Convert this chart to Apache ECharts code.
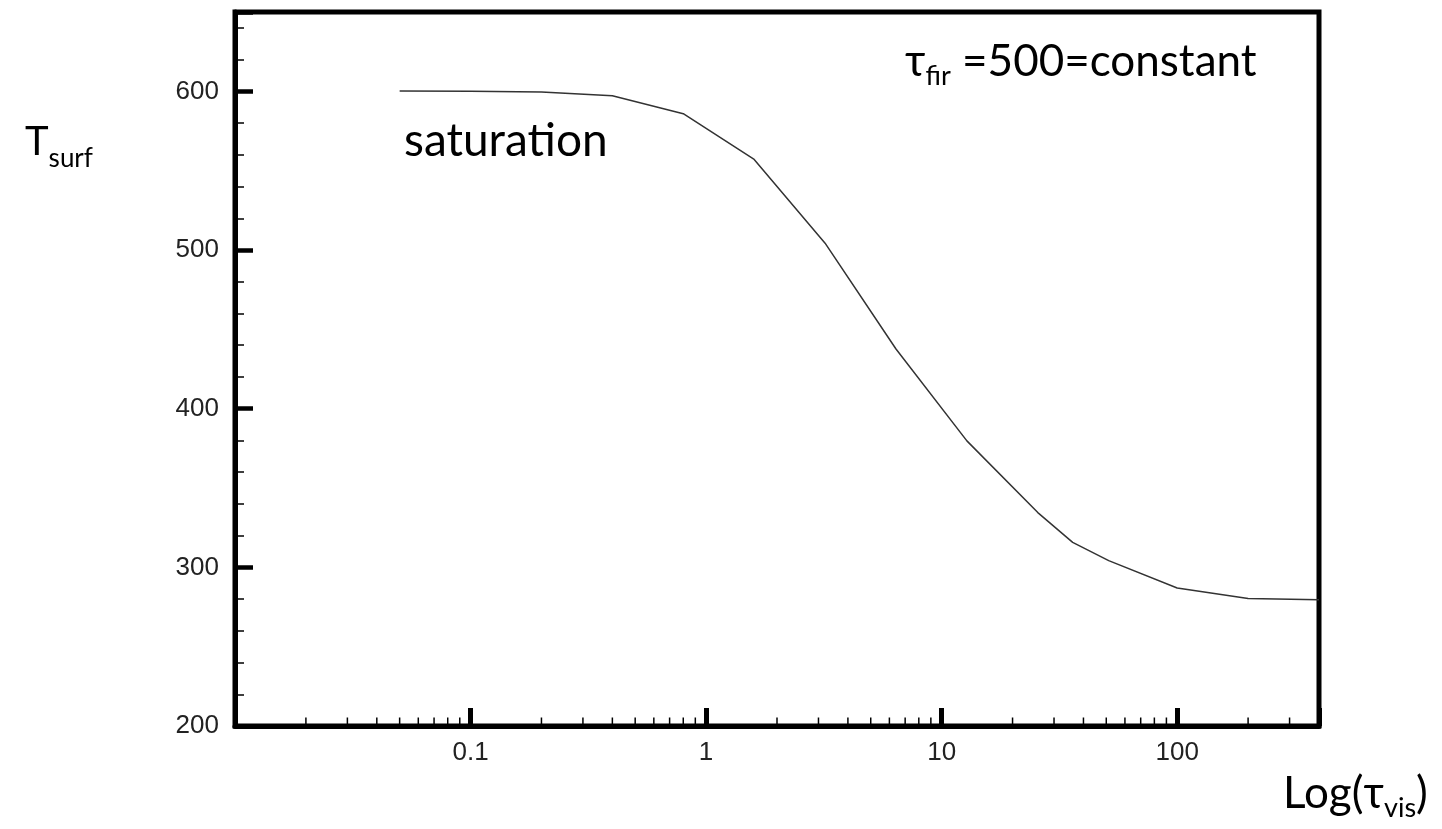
<!DOCTYPE html>
<html>
<head>
<meta charset="utf-8">
<script src="https://cdn.jsdelivr.net/npm/echarts@6/dist/echarts.min.js"></script>
<style>
  html, body { margin: 0; padding: 0; background: #fff; }
  #chart { width: 1442px; height: 829px; }
</style>
</head>
<body>
<div id="chart"></div>
<script>
// tau_vis (x, log) and T_surf (y)
const tauVis = [0.05, 0.1, 0.2, 0.4, 0.8, 1.6, 3.2, 6.4, 12.8, 25.6, 36, 51.2, 100, 200, 400];
const tSurf = [600.2, 600, 599.6, 597.2, 585.9, 557.1, 504.3, 437.6, 379.7, 334.5, 315.7, 304.2, 287, 280.4, 279.6];

const xMajorLabels = [0.1, 1, 10, 100];
const xMinorTicks = [
  0.02, 0.03, 0.04, 0.05, 0.06, 0.07, 0.08, 0.09,
  0.2, 0.3, 0.4, 0.5, 0.6, 0.7, 0.8, 0.9,
  2, 3, 4, 5, 6, 7, 8, 9,
  20, 30, 40, 50, 60, 70, 80, 90,
  200, 300
];
const yMajorLabels = [200, 300, 400, 500, 600];

const textFont = 'Lato, "Open Sans", sans-serif';
const tickFont = '"Liberation Sans", Arial, sans-serif';

// main text + subscript styles for the annotations
function richStyle(size, subSize) {
  return {
    m: { fontFamily: textFont, fontSize: size, fill: '#000', lineHeight: 50, verticalAlign: 'top' },
    s: { fontFamily: textFont, fontSize: subSize, fill: '#000', lineHeight: 10, verticalAlign: 'bottom' }
  };
}

const chart = echarts.init(document.getElementById('chart'));

const option = {
  backgroundColor: '#fff',
  animation: false,
  grid: {
    left: 235, right: 123, top: 12, bottom: 103,
    show: true, borderColor: '#000', borderWidth: 5, backgroundColor: 'transparent'
  },
  xAxis: {
    type: 'log',
    logBase: 10,
    min: 0.01,
    max: 400,
    axisLine: { show: true, lineStyle: { color: '#000', width: 5 } },
    axisTick: { show: true, inside: true, length: 18, lineStyle: { color: '#000', width: 5 } },
    splitLine: { show: false },
    axisLabel: {
      margin: 14,
      fontFamily: tickFont, fontSize: 26, color: '#222',
      formatter: function (v) {
        return xMajorLabels.some(m => Math.abs(m - v) / m < 1e-6) ? String(v) : '';
      }
    }
  },
  yAxis: [
    {
      type: 'value',
      min: 200, max: 650, interval: 100,
      axisLine: { show: true, lineStyle: { color: '#000', width: 5 } },
      axisTick: { show: true, inside: true, length: 18, lineStyle: { color: '#000', width: 4.5 } },
      splitLine: { show: false },
      axisLabel: {
        margin: 16,
        fontFamily: tickFont, fontSize: 26, color: '#222',
        formatter: function (v) { return yMajorLabels.indexOf(v) >= 0 ? String(v) : ''; }
      }
    },
    {
      type: 'value',
      position: 'left',
      min: 200, max: 650, interval: 20,
      axisLine: { show: false },
      axisTick: { show: true, inside: true, length: 9, lineStyle: { color: '#000', width: 1.5 } },
      splitLine: { show: false },
      axisLabel: { show: false }
    }
  ],
  series: [
    {
      type: 'line',
      data: tauVis.map((x, i) => [x, tSurf[i]]),
      showSymbol: false,
      lineStyle: { color: '#333', width: 1.5 },
      z: 3
    },
    {
      type: 'custom',
      data: xMinorTicks.map(v => [v, 200]),
      clip: false,
      silent: true,
      renderItem: function (params, api) {
        const p = api.coord([api.value(0), api.value(1)]);
        return {
          type: 'line',
          shape: { x1: p[0], y1: p[1] - 2, x2: p[0], y2: p[1] - 8.5 },
          style: { stroke: '#000', lineWidth: 1.5 }
        };
      },
      z: 4
    }
  ],
  graphic: [
    {
      type: 'text', left: 25, top: 122,
      style: { text: '{m|T}{s|surf}', rich: richStyle(40, 26) }
    },
    {
      type: 'text', left: 404, top: 118,
      style: { text: '{m|saturation}', rich: richStyle(46, 26) }
    },
    {
      type: 'text', left: 905, top: 40,
      style: { text: '{m|τ}{s|fir}{m| =500=constant}', rich: richStyle(44, 27) }
    },
    {
      type: 'text', left: 1283, top: 772,
      style: { text: '{m|Log(τ}{s|vis}{m|)}', rich: richStyle(44, 27) }
    }
  ]
};

chart.setOption(option);
</script>
</body>
</html>
